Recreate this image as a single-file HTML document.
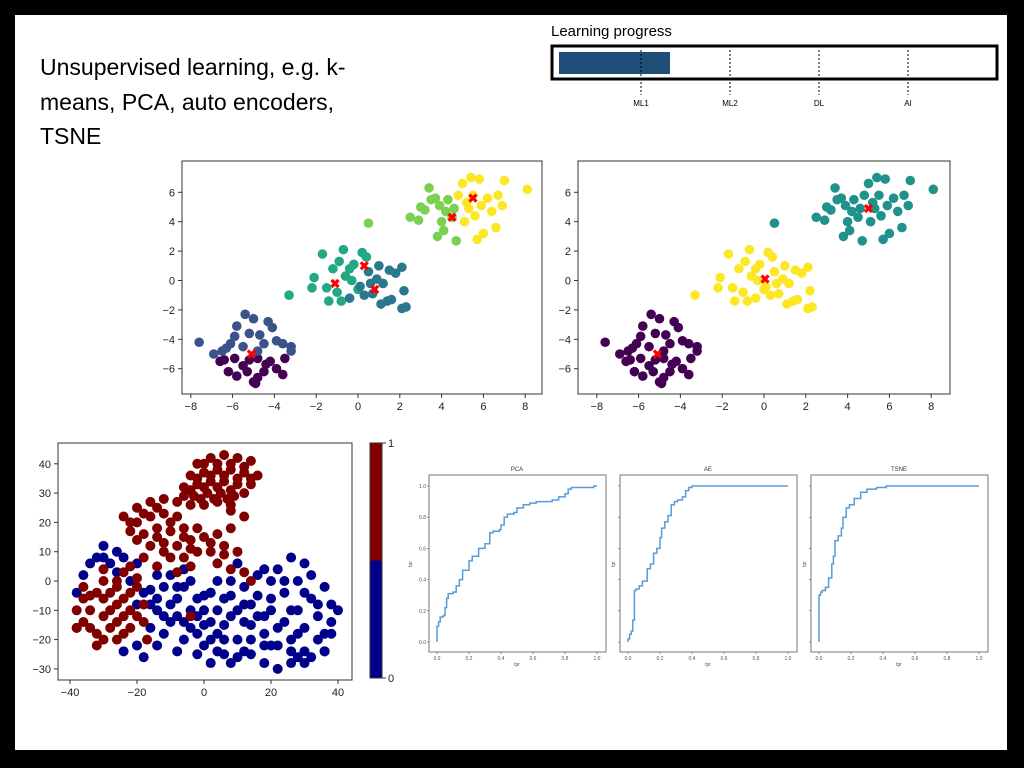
<!DOCTYPE html>
<html><head><meta charset="utf-8"><style>
html,body{margin:0;padding:0;background:#000;}
#slide{position:absolute;left:15px;top:15px;width:992px;height:735px;background:#fff;overflow:hidden;}
svg{position:absolute;left:0;top:0;}
text{font-family:"Liberation Sans",sans-serif;}
</style></head><body>
<div id="slide"></div>
<svg id="svg" width="1024" height="768">
<text x="40" y="75" font-size="23" fill="#000">Unsupervised learning, e.g. k-</text>
<text x="40" y="110" font-size="23" fill="#000">means, PCA, auto encoders,</text>
<text x="40" y="144" font-size="23" fill="#000">TSNE</text>
<text x="551" y="36" font-size="15" fill="#000">Learning progress</text>
<rect x="552" y="46" width="445" height="33" fill="#fff" stroke="#000" stroke-width="3"/>
<rect x="559" y="52" width="111" height="22" fill="#1f4e79"/>
<g id="progress-marks"></g>
<g id="km6"></g><g id="km3"></g><g id="tsne"></g><g id="roc"></g>
</svg>
<script>
const NS='http://www.w3.org/2000/svg';
const svg=document.getElementById('svg');
function mk(tag,attrs,parent){const e=document.createElementNS(NS,tag);for(const k in attrs)e.setAttribute(k,attrs[k]);(parent||svg).appendChild(e);return e;}

// progress markers
const stageLabels=['ML1','ML2','DL','AI'];
const stageX=[641,730,819,908];
const pm=document.getElementById('progress-marks');
stageLabels.forEach((s,i)=>{
  const l=mk('line',{x1:stageX[i],x2:stageX[i],y1:50,y2:95,stroke:'#000','stroke-width':1,'stroke-dasharray':'2,2'},pm);
  
  
  const t=mk('text',{x:stageX[i],y:106,'font-size':8,'text-anchor':'middle'},pm);t.textContent=s;
  
  
});

// ---------- k-means data ----------
const kmX=[-6.6,-6.2,-5.8,-5.5,-5,-4.8,-4.5,-4.2,-3.9,-3.6,-3.5,-5.9,-5.2,-4.8,-6.4,-4.9,-5.3,-4.4,
-7.6,-6.9,-6.5,-6.1,-5.8,-5.9,-5.5,-5.2,-5.0,-4.7,-4.5,-4.3,-4.1,-3.9,-3.6,-3.2,-3.2,-5.4,-4.8,-6.3,
-3.3,-2.2,-2.1,-1.7,-1.5,-1.4,-1.2,-0.9,-0.8,-0.6,-0.4,-0.2,0,0.2,0.4,-1.0,-0.7,-0.3,
0.1,0.3,0.5,0.7,0.9,1.0,1.2,1.4,1.6,1.8,2.1,2.1,2.3,2.2,1.1,0.6,1.5,-0.4,
0.5,2.5,2.9,3.0,3.2,3.4,3.5,3.8,3.9,4.0,4.1,4.3,4.5,4.7,4.6,3.7,4.2,
4.8,5.0,5.2,5.4,5.6,5.8,5.9,6.0,6.2,6.4,6.6,6.7,7.0,6.9,8.1,5.3,5.7,5.1,5.5];
const kmY=[-5.5,-6.2,-6.5,-5.8,-6.9,-6.6,-6.2,-5.5,-6,-6.4,-5.3,-5.3,-5.4,-5.3,-5.4,-7.0,-6.2,-5.7,
-4.2,-5,-4.8,-4.3,-3.1,-3.8,-4.5,-3.6,-2.6,-3.7,-4.3,-2.8,-3.2,-4.1,-4.3,-4.5,-4.8,-2.3,-4.8,-4.6,
-1.0,-0.5,0.2,1.8,-0.5,-1.4,0.8,1.3,-1.4,0.3,0.8,1.1,-0.6,1.9,1.6,-0.8,2.1,0.0,
-0.4,-1.0,0.6,-0.9,0.1,1.0,-0.2,-1.4,-1.3,0.5,0.9,-1.9,-1.8,-0.7,-1.6,-0.2,0.7,-1.2,
3.9,4.3,4.1,5.0,4.8,6.3,5.5,3.0,5.1,4.0,3.4,5.5,4.3,2.7,4.9,5.6,4.7,
5.8,6.6,5.3,7.0,4.4,6.9,5.1,3.2,5.6,4.7,3.6,5.8,6.8,5.1,6.2,4.9,2.8,4.0,5.8];
const kmLabel6=[...Array(18).fill(0),...Array(20).fill(1),...Array(18).fill(2),...Array(18).fill(3),...Array(17).fill(4),...Array(19).fill(5)];
const kmLabel3=kmLabel6.map(l=>Math.floor(l/2));
const cent6X=[-5.1,-1.1,0.3,0.8,4.5,5.5];
const cent6Y=[-5.0,-0.2,1.0,-0.6,4.3,5.6];
const cent3X=[-5.1,0.05,5.0];
const cent3Y=[-5.0,0.1,4.9];
const kmTicksX=[-8,-6,-4,-2,0,2,4,6,8];
const kmTicksY=[-6,-4,-2,0,2,4,6];
const col6map=['#440154','#3b528b','#22a884','#2a788e','#7ad151','#fde725'];
const col3=['#440154','#fde725','#21918c'];

function scatterPanel(gid,name,fx0,fx1,xOrigin,xScale,labels,cols,cx,cy){
  const g=document.getElementById(gid);
  const sx=v=>xOrigin+v*xScale, sy=v=>280.5-v*14.7;
  const fr=mk('rect',{x:fx0,y:161,width:fx1-fx0,height:233,fill:'#fff',stroke:'#333','stroke-width':1},g);
  
  
  kmTicksX.forEach(t=>{
    mk('line',{x1:sx(t),x2:sx(t),y1:394,y2:398,stroke:'#333'},g);
    const tx=mk('text',{x:sx(t),y:410,'font-size':11,'text-anchor':'middle',fill:'#222'},g);
    tx.textContent=(t<0?'\u2212'+(-t):t);
    
    
  });
  kmTicksY.forEach(t=>{
    mk('line',{x1:fx0-4,x2:fx0,y1:sy(t),y2:sy(t),stroke:'#333'},g);
    const tx=mk('text',{x:fx0-7,y:sy(t)+4,'font-size':11,'text-anchor':'end',fill:'#222'},g);
    tx.textContent=(t<0?'\u2212'+(-t):t);
    
    
  });
  kmX.forEach((x,i)=>{
    const c=mk('circle',{cx:sx(x),cy:sy(kmY[i]),r:4.8,fill:cols[labels[i]]},g);
    
    
  });
  cx.forEach((x,i)=>{
    const X=sx(x),Y=sy(cy[i]);
    const p=mk('path',{d:`M${X-3.5},${Y-3.5}L${X+3.5},${Y+3.5}M${X+3.5},${Y-3.5}L${X-3.5},${Y+3.5}`,stroke:'#f00','stroke-width':3.2},g);
    
    
  });
}
scatterPanel('km6','kmeans-6',182,542,358,20.9,kmLabel6,col6map,cent6X,cent6Y);
scatterPanel('km3','kmeans-3',578,950,764,20.9,kmLabel3,col3,cent3X,cent3Y);

// ---------- t-SNE ----------
const redX=[-2,2,6,10,14,-4,0,4,8,12,16,-6,-2,2,6,10,14,-3,1,5,9,12,-8,-4,0,4,8,
-20,-16,-12,-24,-20,-16,-12,-8,-22,-18,-14,-10,-6,-16,-12,-8,-4,0,4,8,-10,-6,-2,2,6,-14,-8,-4,4,8,12,14,
-36,-38,-34,-36,-32,-30,-30,-30,-30,-26,-26,-26,-26,-24,-22,-22,-22,-20,-18,-18,-34,-28,-24,-20,-28,-32,-38,-17,-24,-4,12,8,
0,4,8,12,-2,2,6,10,14,-4,0,4,8,-6,-1,3,7,-14,-18,-22,-20,-14,-10,-6,-2,2,6,10,-4,-12,-18,-22,-26,-32,-34,-30,-28,-24,-20,-36,-38];
const redY=[40,42,43,42,41,36,37,38,38,37,36,32,33,34,34,33,33,29,30,30,29,30,27,26,26,27,26,
25,27,28,22,20,22,23,22,17,16,18,17,18,12,13,12,14,15,16,18,8,8,10,10,12,5,3,5,6,4,3,0,
-14,-10,-5,-2,-18,-12,-6,0,4,-20,-14,-8,-2,3,-16,-10,-4,1,-8,-14,-10,-16,-12,-2,-4,-22,-16,-20,-18,-12,22,24,
40,40,40,39,35,36,36,35,35,31,32,32,31,29,28,28,28,25,23,20,14,15,20,15,18,13,9,10,11,10,8,5,0,-4,-16,-20,-10,-6,-12,-6,-16];
const blueX=[-38,-36,-32,-28,-24,-20,-16,-14,-12,-10,-8,-6,-4,-4,-2,0,0,2,2,4,4,6,6,8,10,10,12,14,14,16,18,18,20,20,22,24,24,26,26,28,28,30,30,32,34,34,36,38,38,22,16,10,-12,-8,-16,-20,-18,-14,-6,-2,8,12,4,0,-10,6,32,36,40,30,26,14,18,22,-24,-2,-30,-34,-26,2,-8,36,28,20,12,
-30,-26,-22,-18,-14,-10,-6,-2,2,6,10,14,18,22,26,30,34,38,26,30,20,16,12,8,4,0,-4,-8,-12,-16,-20,8,18,24,32,28,36,2,-6,-14];
const blueY=[-4,2,8,6,8,6,-3,-10,-2,-14,-6,-20,-10,0,-25,-15,-5,-28,-20,-10,0,-25,-15,-5,-20,-10,-2,-15,-25,-5,-28,-18,-10,0,-22,-14,-4,-28,-20,-10,0,-24,-16,-6,-20,-12,-2,-14,-8,4,2,6,-18,-24,-16,-22,-26,-22,-14,-18,-28,-14,-18,-10,-8,-6,-26,-18,-10,6,8,-8,-12,-30,-24,-6,12,6,10,-4,-2,-24,-26,-22,-24,
8,3,0,-4,-6,2,-2,-12,-14,-20,-26,-20,-22,-16,-10,-4,-8,-18,-24,-28,-6,-12,-8,-12,-24,-22,-16,-12,-12,-8,-8,0,4,0,2,-18,-24,-4,4,2];
const tsneTicksX=[-40,-20,0,20,40];
const tsneTicksY=[-30,-20,-10,0,10,20,30,40];
const cbTicks=[0,1];
(function(){
  const g=document.getElementById('tsne');
  const sx=v=>204+v*3.35, sy=v=>581-v*2.93;
  const fr=mk('rect',{x:58,y:443,width:294,height:237,fill:'#fff',stroke:'#333','stroke-width':1},g);
  
  
  tsneTicksX.forEach(t=>{mk('line',{x1:sx(t),x2:sx(t),y1:680,y2:684,stroke:'#333'},g);
    const tx=mk('text',{x:sx(t),y:696,'font-size':11,'text-anchor':'middle',fill:'#222'},g);tx.textContent=t<0?'\u2212'+(-t):t;
    
    });
  tsneTicksY.forEach(t=>{mk('line',{x1:54,x2:58,y1:sy(t),y2:sy(t),stroke:'#333'},g);
    const tx=mk('text',{x:51,y:sy(t)+4,'font-size':11,'text-anchor':'end',fill:'#222'},g);tx.textContent=t<0?'\u2212'+(-t):t;
    
    });
  blueX.forEach((x,i)=>{const c=mk('circle',{cx:sx(x),cy:sy(blueY[i]),r:5,fill:'#00008b'},g);
    
    });
  redX.forEach((x,i)=>{const c=mk('circle',{cx:sx(x),cy:sy(redY[i]),r:5,fill:'#800000'},g);
    
    });
  const cy=v=>678-v*235;
  const cr=mk('rect',{x:370,y:cy(1),width:12,height:cy(0.5)-cy(1),fill:'#800000'},g);
  
  
  const cb=mk('rect',{x:370,y:cy(0.5),width:12,height:cy(0)-cy(0.5),fill:'#00008b'},g);
  
  
  mk('rect',{x:370,y:cy(1),width:12,height:235,fill:'none',stroke:'#333'},g);
  cbTicks.forEach(t=>{mk('line',{x1:382,x2:386,y1:cy(t),y2:cy(t),stroke:'#333'},g);
    const tx=mk('text',{x:388,y:cy(t)+4,'font-size':11,fill:'#222'},g);tx.textContent=t;
    
    });
})();

// ---------- ROC ----------
const rocTitles=['PCA','AE','TSNE'];
const pcaFpr=[0,0,0.01,0.02,0.04,0.05,0.06,0.07,0.1,0.12,0.14,0.16,0.2,0.22,0.26,0.3,0.33,0.35,0.39,0.4,0.42,0.44,0.48,0.5,0.54,0.58,0.62,0.68,0.72,0.76,0.8,0.82,0.84,0.98,1];
const pcaTpr=[0,0.1,0.13,0.16,0.17,0.22,0.28,0.31,0.32,0.36,0.4,0.46,0.52,0.55,0.6,0.63,0.7,0.71,0.72,0.75,0.8,0.82,0.83,0.86,0.88,0.89,0.9,0.9,0.91,0.93,0.95,0.98,0.99,1,1];
const aeFpr=[0,0,0.01,0.02,0.03,0.04,0.05,0.07,0.09,0.12,0.14,0.16,0.18,0.2,0.21,0.23,0.25,0.27,0.29,0.31,0.34,0.36,0.38,0.4,0.43,1];
const aeTpr=[0,0.02,0.05,0.07,0.14,0.33,0.34,0.36,0.39,0.47,0.5,0.57,0.6,0.67,0.73,0.77,0.81,0.88,0.9,0.91,0.93,0.97,0.99,1,1,1];
const tsneFpr=[0,0,0.01,0.02,0.04,0.06,0.07,0.08,0.09,0.1,0.12,0.14,0.15,0.17,0.19,0.22,0.26,0.3,0.36,0.42,0.56,1];
const tsneTpr=[0,0.3,0.32,0.33,0.35,0.41,0.41,0.5,0.55,0.65,0.68,0.73,0.8,0.86,0.88,0.92,0.96,0.98,0.99,1,1,1];
const rocTicks=[0,0.2,0.4,0.6,0.8,1.0];
(function(){
  const g=document.getElementById('roc');
  const series=[[pcaFpr,pcaTpr],[aeFpr,aeTpr],[tsneFpr,tsneTpr]];
  series.forEach((s,k)=>{
    const off=k*191;
    const sx=v=>437+off+v*160, sy=v=>642-v*156;
    const fr=mk('rect',{x:429+off,y:475,width:177,height:177,fill:'#fff',stroke:'#555','stroke-width':0.8},g);
    
    
    const tt=mk('text',{x:517+off,y:471,'font-size':6,'text-anchor':'middle',fill:'#333'},g);tt.textContent=rocTitles[k];
    
    
    const xl=mk('text',{x:517+off,y:666,'font-size':5,'text-anchor':'middle',fill:'#555'},g);xl.textContent='tpr';
    
    
    const yl=mk('text',{x:0,y:0,'font-size':5,'text-anchor':'middle',fill:'#555',transform:`translate(${424+off-(k?0:12)},564) rotate(-90)`},g);yl.textContent='tpr';
    
    
    rocTicks.forEach(t=>{
      mk('line',{x1:sx(t),x2:sx(t),y1:652,y2:654,stroke:'#555','stroke-width':0.6},g);
      const tx=mk('text',{x:sx(t),y:660,'font-size':5,'text-anchor':'middle',fill:'#555'},g);tx.textContent=t.toFixed(1);
      
      
      mk('line',{x1:429+off-2,x2:429+off,y1:sy(t),y2:sy(t),stroke:'#555','stroke-width':0.6},g);
      if(k===0){const ty=mk('text',{x:426,y:sy(t)+2,'font-size':5,'text-anchor':'end',fill:'#555'},g);ty.textContent=t.toFixed(1);
        
        }
    });
    let d='';
    s[0].forEach((f,i)=>{
      if(i===0)d+=`M${sx(f)},${sy(s[1][i])}`;
      else d+=`H${sx(f)}V${sy(s[1][i])}`;
    });
    const p=mk('path',{d:d,fill:'none',stroke:'#5b9bd5','stroke-width':1.5},g);
    
    
  });
})();
</script>
</body></html>
